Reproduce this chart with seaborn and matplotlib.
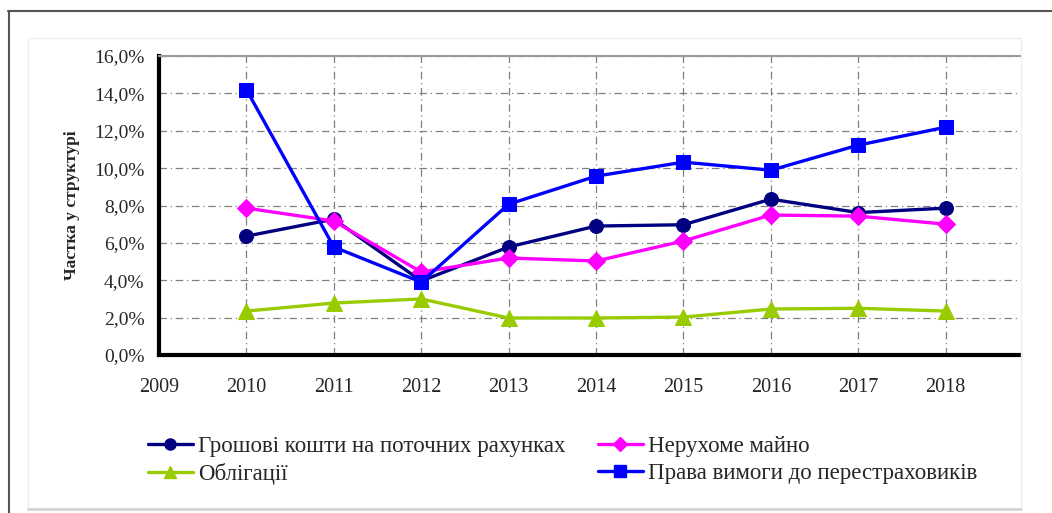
import numpy as np
import pandas as pd
import seaborn as sns
import matplotlib.pyplot as plt
from matplotlib.lines import Line2D
from matplotlib.patches import Rectangle
from matplotlib.ticker import FuncFormatter, MultipleLocator

years = [2010, 2011, 2012, 2013, 2014, 2015, 2016, 2017, 2018]
cash = [6.36, 7.27, 3.96, 5.78, 6.90, 6.97, 8.34, 7.62, 7.86]
realty = [7.86, 7.17, 4.44, 5.19, 5.03, 6.10, 7.49, 7.43, 7.00]
bonds = [2.35, 2.78, 3.00, 1.98, 1.98, 2.03, 2.46, 2.50, 2.35]
reins = [14.20, 5.78, 3.90, 8.07, 9.57, 10.32, 9.89, 11.23, 12.19]

names = ["Грошові кошти на поточних рахунках", "Нерухоме майно",
         "Облігації", "Права вимоги до перестраховиків"]
colors = ["#000080", "#FF00FF", "#99CC00", "#0000FF"]
markers = ["o", "D", "^", "s"]
msizes = [10, 9, 11, 10]

sns.set_style("white")
plt.rcParams['font.family'] = ['Liberation Serif', 'DejaVu Serif']

fig = plt.figure(figsize=(10.52, 5.13), dpi=100)
ax = fig.add_axes([159 / 1052, 1 - 355 / 513, (1020 - 159) / 1052, (355 - 56) / 513])

series = [cash, realty, bonds, reins]
handles = []
for name, vals, c, m, ms in zip(names, series, colors, markers, msizes):
    df = pd.DataFrame({"year": years, "value": vals})
    sns.lineplot(data=df, x="year", y="value", ax=ax, color=c, marker=m,
                 markersize=ms, markeredgecolor=c, linewidth=2.4, legend=False,
                 zorder=3)
    handles.append(Line2D([], [], color=c, marker=m, markersize=ms * 0.8,
                          markeredgecolor=c, linewidth=2.4))

ax.set_xlim(2009, 2018.85)
ax.set_ylim(0, 16)
ax.xaxis.set_major_locator(MultipleLocator(1))
ax.yaxis.set_major_locator(MultipleLocator(2))
ax.yaxis.set_major_formatter(FuncFormatter(lambda v, p: f"{v:.1f}%".replace(".", ",")))
ax.xaxis.set_major_formatter(FuncFormatter(lambda v, p: f"{int(round(v))}"))

ax.grid(True, color="#808080", linestyle=(0, (6, 3, 1, 3)), linewidth=0.9)
for s in ["left", "bottom"]:
    ax.spines[s].set_linewidth(3)
    ax.spines[s].set_color("black")
ax.spines["right"].set_visible(False)
ax.spines["top"].set_color("#999999")
ax.spines["top"].set_linewidth(1.5)
ax.tick_params(axis="both", direction="inout", length=9, width=3, color="black", pad=6)
ax.tick_params(axis="y", labelsize=14)
ax.tick_params(axis="x", labelsize=14.5, pad=12)
ax.set_xlabel("")
ax.set_ylabel("Частка у структурі", fontsize=12.5, fontweight="bold", labelpad=10)

ax.legend([handles[0], handles[2], handles[1], handles[3]],
          [names[0], names[2], names[1], names[3]],
          ncol=2, loc="upper left", bbox_to_anchor=(-0.024, -0.24),
          frameon=False, fontsize=16.5, handlelength=2.0, handletextpad=0.2,
          columnspacing=1.4, labelspacing=0.25, borderaxespad=0)

# outer frame
fig.add_artist(Rectangle((28 / 1052, 1 - 509 / 513), (1021 - 28) / 1052, (509 - 38) / 513,
                         transform=fig.transFigure, fill=False, edgecolor="#eeeeee", linewidth=1))
fig.add_artist(Line2D([28 / 1052, 1021 / 1052], [1 - 509 / 513] * 2, transform=fig.transFigure,
                      color="#d4d4d4", linewidth=2))
fig.add_artist(Line2D([8 / 1052, 1], [1 - 10.5 / 513] * 2, transform=fig.transFigure,
                      color="#555555", linewidth=1.5))
fig.add_artist(Line2D([8.5 / 1052] * 2, [0, 1 - 10.5 / 513], transform=fig.transFigure,
                      color="#555555", linewidth=1.5))

fig.savefig("out.png", dpi=100, facecolor="white")
